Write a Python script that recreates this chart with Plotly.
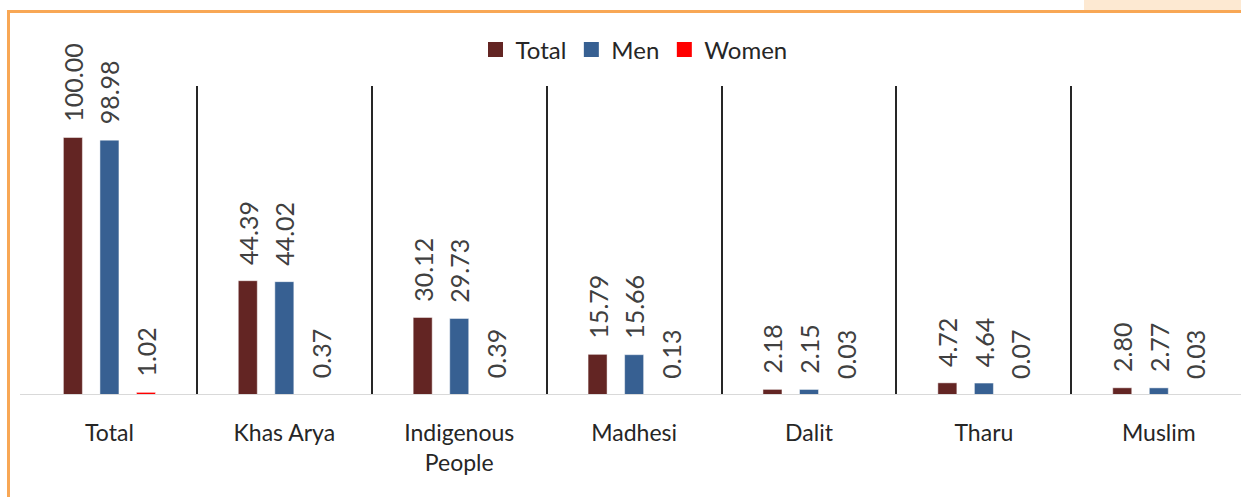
import plotly.graph_objects as go

categories = ["Total", "Khas Arya", "Indigenous<br>People", "Madhesi", "Dalit", "Tharu", "Muslim"]
total = [100.00, 44.39, 30.12, 15.79, 2.18, 4.72, 2.80]
men = [98.98, 44.02, 29.73, 15.66, 2.15, 4.64, 2.77]
women = [1.02, 0.37, 0.39, 0.13, 0.03, 0.07, 0.03]

series = [("Total", total, "#632523"), ("Men", men, "#376092"), ("Women", women, "#FF0000")]

FONT = "Lato"
NB = "\u00a0\u00a0"

W, H = 1241, 497
L, T = 22, 86
B = H - 395
R = 0
pw = W - L - R
ph = H - T - B

def px(x):
    return (x - L) / pw

def py(y):
    return 1 - (y - T) / ph

fig = go.Figure()
for name, vals, col in series:
    fig.add_trace(go.Bar(
        name=name, x=categories, y=vals, showlegend=False,
        marker=dict(color=col, line=dict(color="rgba(255,255,255,0.6)", width=0.8)),
        text=[NB + f"{v:.2f}" for v in vals],
        textposition="outside", textangle=-90, cliponaxis=False,
        constraintext="none",
        textfont=dict(family=FONT, size=25, color="#404040"),
    ))
for name, vals, col in series:
    fig.add_trace(go.Scatter(
        name=name, x=[None], y=[None], mode="markers",
        marker=dict(symbol="square", size=15, color=col),
    ))

fig.update_layout(
    width=W, height=H,
    margin=dict(l=L, r=R, t=T, b=B),
    paper_bgcolor="white", plot_bgcolor="white",
    barmode="group", bargap=0.373, bargroupgap=0.48,
    font=dict(family=FONT, size=24, color="#404040"),
    legend=dict(orientation="h", x=px(634), xanchor="center", y=py(50), yanchor="middle",
                font=dict(family=FONT, size=24, color="#262626"),
                itemclick=False, bgcolor="rgba(0,0,0,0)", traceorder="normal",
                itemwidth=30),
    xaxis=dict(range=[-0.5, 6.47], tickson="boundaries", showgrid=True,
               gridcolor="#262626", gridwidth=1.5, ticks="", showline=False,
               zeroline=False, ticklabelstandoff=22,
               tickfont=dict(family=FONT, size=23, color="#262626")),
    yaxis=dict(range=[0, 120], visible=False, showgrid=False, zeroline=False),
    shapes=[
        dict(type="line", xref="paper", yref="y", x0=px(20), x1=1.0, y0=0, y1=0,
             line=dict(color="#D9D9D9", width=2)),
        dict(type="rect", xref="paper", yref="paper", x0=px(1084), x1=px(1260),
             y0=py(10), y1=py(-5), fillcolor="#FDE9D2", line=dict(width=0), layer="above"),
        dict(type="rect", xref="paper", yref="paper", x0=px(8.5), x1=px(1300),
             y0=py(600), y1=py(11.5), fillcolor="rgba(0,0,0,0)",
             line=dict(color="#F8A755", width=3)),
    ],
)

fig.write_html(
    "out.html",
    config={"displayModeBar": False},
    post_script="document.body.style.margin='0';document.body.style.overflow='hidden';",
)
